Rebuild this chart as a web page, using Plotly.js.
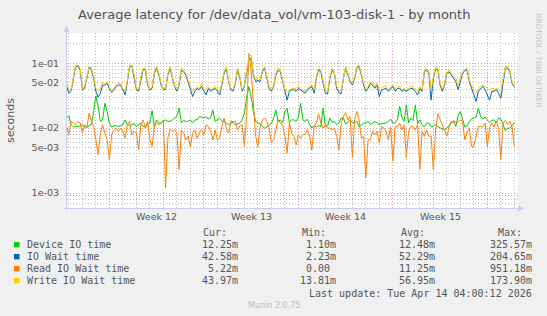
<!DOCTYPE html>
<html>
<head>
<meta charset="utf-8">
<script src="https://cdn.plot.ly/plotly-3.0.1.min.js"></script>
<style>
html,body{margin:0;padding:0;background:#f0f0f0;}
#chart{width:547px;height:316px;}
</style>
</head>
<body>
<div id="chart"></div>
<script>
// ---- Data (values in milliseconds, 4-hour samples) ----
const startTime = '2026-03-11T20:00:00Z';
const stepHours = 4;

const seriesNames = ['Device IO time', 'IO Wait time', 'Read IO Wait time', 'Write IO Wait time'];
const seriesColors = ['#00cc00', '#0066b3', '#ff8000', '#ffcc00'];

const deviceIO = [
14.3,15.5,11.3,10.4,10.6,10.6,10.9,11.3,10.4,10.4,
10.9,11.3,18,31.4,21.5,12.7,13.4,24.2,18,12,
10.4,10.9,10.9,10.6,10.9,11.3,13.4,11.3,10.9,11.3,
11.7,10.6,11.3,12,10.6,10.4,11.3,12,18.7,10.4,
13.4,12,12,12.7,13.4,12.7,12.7,13.4,14.3,15.1,
20.3,12,13.1,12.7,12.7,13.4,12,13.4,13.4,15.1,
14.8,14.3,15.1,13.8,14.3,19.1,12.7,13.4,14.3,12.7,
12.7,12,11.3,12,12.2,11.3,11.7,12,13.4,17,
29,43.7,30.7,18,12.7,12,11.7,10.6,10,10.4,
10.9,11.7,14.3,19.1,12.7,13.4,12,18,20.3,12.2,
13.4,
13.4,12.7,14.8,24.2,13.4,12.7,13.8,11.3,10,10.9,
10.4,10.9,10.6,20.3,10.9,10.9,14.3,12.2,12.7,11.3,
12,14.3,14.3,11.7,12,13.4,12.2,12.2,12.7,10.4,
11.3,12,12,12.7,11.3,12,12.7,12,11.3,11.7,
12,12,12.7,13.8,12,12,13.4,21.5,14.8,12.7,
22.8,12,14.3,13.1,22.8,11.7,13.4,11.3,10.4,12,
12,10.4,10.6,11.3,10.6,10,9.7,9.4,10,10.9,
12,13.1,10.6,15.5,18,13.4,10.4,10.9,12.7,13.8,
14.3,14.8,20.3,15.1,13.8,14.8,13.4,12.2,13.1,13.4,
12,14.3,13.8,10.9,9.2,10,10,10.9,12.25
];

const ioWait = [
44,34.5,37,59,89,91,79,39,41,59,
87,79,59,37,30,34.5,46,46,49,41,
35.4,39,44,46,46,39,32.5,52,89,91,
62,39,37,59,81,79,46,39,41,70,
84,66,46,39,39.7,66,84,59,44,37,
46,79,74,66,52,39,30.7,37,41,39,
44,37,32.5,41,37,39,41,37,32.5,46,
70,84,52,39,37,49,79,59,37,44,
74,112,119,66,52,55,52,74,84,59,
41,37,44,66,79,74,52,34.5,27,37,
39,
39,37,41,39,37,34.5,39,41,44,34.5,
59,79,74,49,34.5,33.7,59,79,70,41,
35.4,33.7,59,84,66,52,46,59,84,89,
66,46,37,41,49,46,41,46,30.7,39,
39.7,41,37,41,44,37,41,41,37,39,
37,39,41,41,37,32.5,41,37,74,79,
70,27,59,81,79,46,37,46,70,74,
66,59,52,39,55,70,77,79,52,41,
34.5,25.7,37,41,44,39,32.5,27,37,37,
39,34.5,29,52,84,84,74,49,42.6
];

const readIOWait = [
10.6,7.9,12.7,12,11.3,12.7,12,8.4,11.3,10,
17,12.7,10.6,6.6,3.9,8.4,11.3,8.4,6.6,3.3,
7.9,9.4,10,8.9,10,8.9,7,11.3,12.7,7.9,
8.9,8.4,4.6,11.3,13.4,10,12.7,6.6,5.2,11.3,
12,11.3,12,13.4,1.2,7,9.7,8.9,9.4,8.4,
2.3,9.4,8.4,6.6,7.5,5.2,8.4,9.4,7,8.4,
9.4,7.9,11.3,10.6,8.9,6.6,9.4,6.6,7,10.6,
14.3,10,8.4,12.7,12.7,12.7,9.4,10.9,11.3,5.2,
15.1,142,79,21.5,7.5,5.2,10.4,13.4,14.3,12.7,
10,5.9,6.6,9.4,13.4,12,11.3,7.5,4.1,12,
8.4,
7.5,5.5,7.9,7,7.9,7.9,9.4,7.5,4.6,10.4,
12,16.6,12,10,10.9,10,10,9.4,10,7.5,
4.6,11.3,15.1,17.4,13.4,15.1,3.5,13.4,18,13.4,
7,7.5,1.7,6.6,6.6,8.9,7.9,8.9,5.9,10.6,
10,8.9,6.6,10.4,3.1,10.6,10.4,12,9.4,11.3,
3.5,8.9,10.6,10.6,9.4,11.3,2.3,8.9,7.5,9.4,
7.5,7.5,2.3,9.4,16.6,13.4,11.3,8.9,7.5,10.4,
12.7,12,12.7,12.2,13.4,12.7,6.6,8.6,10,5.2,
5.2,7.5,10.6,10.6,10.4,12,5.2,10.4,12,10.4,
12.7,10,3.3,12,13.1,11.3,12.7,10.4,5.22
];

const writeIOWait = [
49,39,39,62,94,94,84,41,44,62,
89,84,62,41,37,41,52,49,52,44,
37,41,46,49,49,41,37,55,94,94,
66,41,39,62,84,84,49,40,44,74,
89,70,49,40,41,70,89,62,46,39,
49,84,79,70,55,44,37,39,44,41,
49,39,39,44,39,41,44,39,37,49,
74,89,55,41,39,52,84,62,39,46,
79,127,134,70,55,59,55,79,89,62,
44,39,46,70,84,79,55,39,37,39,
41,
41,41,44,41,39,37,41,44,46,39,
62,84,79,52,37,37,62,84,74,44,
39,37,62,89,70,55,49,62,89,94,
70,49,40,44,52,50,44,49,39,41,
44,44,39,44,46,40,44,44,39,41,
39,41,44,44,40,37,44,39,79,84,
74,39,62,87,84,49,40,49,74,79,
70,62,59,44,59,74,81,84,55,44,
38,35,41,44,46,44,41,39,41,40,
41,40,37,55,89,89,79,52,44
];

// Legend statistics
const curVals = ['12.25m', '42.58m', '5.22m', '43.97m'];
const minVals = ['1.10m', '2.23m', '0.00\u00a0', '13.81m'];
const avgVals = ['12.48m', '52.29m', '11.25m', '56.95m'];
const maxVals = ['325.57m', '204.65m', '951.18m', '173.90m'];
const statHeaders = ['Cur:', 'Min:', 'Avg:', 'Max:'];

// Axis labels
const yTickVals = [0.001, 0.005, 0.01, 0.05, 0.1];
const yTickText = ['1e-03', '5e-03', '1e-02', '5e-02', '1e-01'];
const weekLabels = ['Week 12', 'Week 13', 'Week 14', 'Week 15'];
const weekStarts = ['2026-03-15', '2026-03-22', '2026-03-29', '2026-04-05'];

const titleText = 'Average latency for /dev/data_vol/vm-103-disk-1 - by month';
const yTitle = 'seconds';
const lastUpdate = 'Last update: Tue Apr 14 04:00:12 2026';
const footer = 'Munin 2.0.75';
const watermark = 'RRDTOOL / TOBI OETIKER';

// ---- Build ----
const DAY = 86400000;
function fmt(ms){ return new Date(ms).toISOString().slice(0,19).replace('T',' '); }
const t0 = Date.parse(startTime);
const times = deviceIO.map((_, i) => fmt(t0 + i * stepHours * 3600000));
const allSeries = [deviceIO, ioWait, readIOWait, writeIOWait];

const traces = allSeries.map((s, k) => ({
  type: 'scatter', mode: 'lines', x: times, y: s.map(v => v / 1000),
  line: {color: seriesColors[k], width: 1}, hoverinfo: 'skip', name: seriesNames[k]
}));

// pixel geometry of plot area
const PL = 67, PR = 518, PT = 33, PB = 208;
const px = x => (x - PL) / (PR - PL);
const py = y => (PB - y) / (PB - PT);

const minorY = [];
for (let d = -4; d <= 0; d++) for (let m = 2; m <= 9; m++) if (m !== 5) minorY.push(m * Math.pow(10, d));

const RED = 'rgba(225,120,120,0.75)';
const GREY = 'rgba(170,170,170,0.8)';
const DASH = '1px,2px';
const TXT = '#555555';
const AX = '#c8ccf0';

const ann = [];
ann.push({text: titleText, xref:'paper', yref:'paper', x: px(273.8), y: py(14.5), xanchor:'center', yanchor:'middle', showarrow:false, font:{family:'DejaVu Sans', size:13, color:'#505050'}});
ann.push({text: yTitle, xref:'paper', yref:'paper', x: px(10.5), y: py(120.5), xanchor:'center', yanchor:'middle', textangle:-90, showarrow:false, font:{family:'DejaVu Sans', size:11, color:TXT}});
ann.push({text: watermark, xref:'paper', yref:'paper', x: px(538), y: py(60.5), xanchor:'center', yanchor:'middle', textangle:90, showarrow:false, font:{family:'DejaVu Sans', size:7.3, color:'#c4c4c4'}});
weekLabels.forEach((w, i) => {
  ann.push({text: w, xref:'x', yref:'paper', x: fmt(Date.parse(weekStarts[i] + 'T00:00:00Z') + 3.5 * DAY), y: py(216.7), xanchor:'center', yanchor:'middle', showarrow:false, font:{family:'DejaVu Sans', size:9.5, color:TXT}});
});
const MONO = {family:'DejaVu Sans Mono', size:10, color:TXT};
const headerLeft = [202.4, 300.8, 399.5, 497.2];
const valueRight = [238.5, 336.9, 435.6, 533.3];
statHeaders.forEach((h, j) => ann.push({text: h, xref:'paper', yref:'paper', x: px(headerLeft[j]), y: py(232.5), xanchor:'left', yanchor:'middle', showarrow:false, borderpad:0, font:MONO}));
const rowY = [244.7, 256.7, 268.7, 280.7];
const statCols = [curVals, minVals, avgVals, maxVals];
const shapes = [];
seriesNames.forEach((n, r) => {
  ann.push({text: n, xref:'paper', yref:'paper', x: px(26), y: py(rowY[r]), xanchor:'left', yanchor:'middle', showarrow:false, borderpad:0, font:MONO});
  statCols.forEach((col, j) => ann.push({text: col[r], xref:'paper', yref:'paper', x: px(valueRight[j]), y: py(rowY[r]), xanchor:'right', yanchor:'middle', showarrow:false, borderpad:0, font:MONO}));
  shapes.push({type:'rect', xref:'paper', yref:'paper', x0: px(14), x1: px(19.5), y0: py(rowY[r] - 2.7), y1: py(rowY[r] + 2.7), fillcolor: seriesColors[r], line:{width:0}});
});
ann.push({text: lastUpdate, xref:'paper', yref:'paper', x: px(533.3), y: py(293), xanchor:'right', yanchor:'middle', showarrow:false, borderpad:0, font:MONO});
ann.push({text: footer, xref:'paper', yref:'paper', x: px(273.5), y: py(305.5), xanchor:'center', yanchor:'middle', showarrow:false, font:{family:'DejaVu Sans', size:8, color:'#bbbbbb'}});

// axis lines and arrows
shapes.push({type:'line', xref:'paper', yref:'paper', x0: px(66.5), x1: px(66.5), y0: py(211), y1: py(30), line:{color:AX, width:1}});
shapes.push({type:'line', xref:'paper', yref:'paper', x0: px(64), x1: px(519), y0: py(208.5), y1: py(208.5), line:{color:AX, width:1}});
shapes.push({type:'path', xref:'paper', yref:'paper', path: `M ${px(63.5)} ${py(32)} L ${px(66.5)} ${py(26)} L ${px(69.5)} ${py(32)} Z`, fillcolor:AX, line:{width:0}});
shapes.push({type:'path', xref:'paper', yref:'paper', path: `M ${px(518)} ${py(205.5)} L ${px(524)} ${py(208.5)} L ${px(518)} ${py(211.5)} Z`, fillcolor:AX, line:{width:0}});

const layout = {
  width: 547, height: 316,
  margin: {l: PL, r: 547 - PR, t: PT, b: 316 - PB, pad: 0},
  paper_bgcolor: '#f0f0f0', plot_bgcolor: '#ffffff',
  showlegend: false,
  xaxis: {
    type: 'date', range: ['2026-03-11 20:40', '2026-04-14 06:30'],
    showticklabels: false, ticks: '', zeroline: false, showline: false,
    tick0: '2026-03-15', dtick: 7 * DAY, showgrid: true, gridcolor: RED, griddash: DASH, gridwidth: 1,
    minor: {tick0: '2026-03-15', dtick: DAY, showgrid: true, gridcolor: GREY, griddash: DASH, gridwidth: 1}
  },
  yaxis: {
    type: 'log', range: [-3.231, -0.534],
    tickmode: 'array', tickvals: yTickVals, ticktext: yTickText,
    ticks: '', ticklabelstandoff: 7, zeroline: false, showline: false,
    tickfont: {family: 'DejaVu Sans', size: 9.5, color: TXT},
    showgrid: true, gridcolor: RED, griddash: DASH, gridwidth: 1,
    minor: {tickmode: 'array', tickvals: minorY, showgrid: true, gridcolor: GREY, griddash: DASH, gridwidth: 1}
  },
  annotations: ann,
  shapes: shapes
};

Plotly.newPlot('chart', traces, layout, {staticPlot: true, displayModeBar: false});
</script>
</body>
</html>
